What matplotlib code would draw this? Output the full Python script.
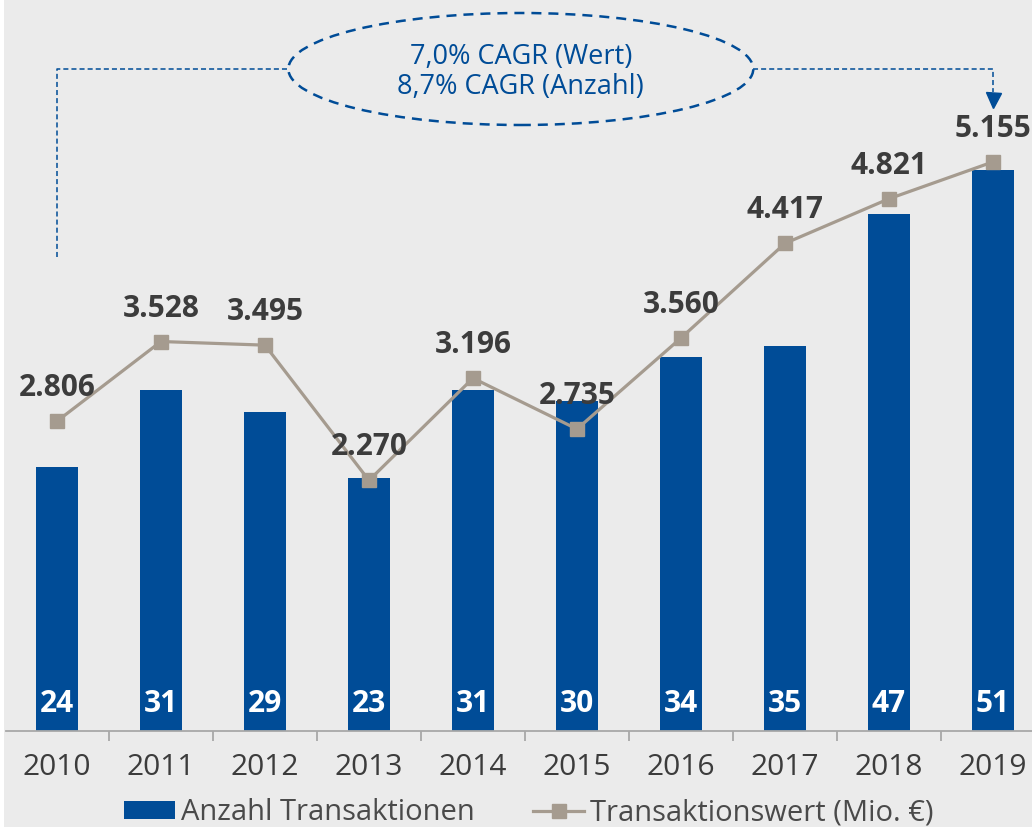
import numpy as np
import matplotlib.pyplot as plt
from matplotlib.patches import Ellipse, Patch, Rectangle
from matplotlib.lines import Line2D
import matplotlib.transforms as mtransforms

plt.rcParams['font.family'] = ['Open Sans', 'DejaVu Sans']

# data
years = ['2010', '2011', '2012', '2013', '2014', '2015', '2016', '2017', '2018', '2019']
anzahl = [24, 31, 29, 23, 31, 30, 34, 35, 47, 51]
wert = [2806, 3528, 3495, 2270, 3196, 2735, 3560, 4417, 4821, 5155]
cagr_lines = ['7,0% CAGR (Wert)', '8,7% CAGR (Anzahl)']

blue = '#004c97'
taupe = '#a59b8f'
dark = '#3c3c3c'
bg = '#ebebeb'

W, H = 1032, 827
fig = plt.figure(figsize=(W / 100, H / 100), dpi=100, facecolor='white')
fig.patches.append(Rectangle((4 / W, 0), 1 - 4 / W, 1, transform=fig.transFigure,
                             facecolor=bg, edgecolor='none', zorder=-10))

ax = fig.add_axes([6 / W, 96 / H, 1026 / W, 731 / H])
ax.set_facecolor('none')
x = np.arange(len(years))
ax.bar(x, anzahl, width=0.40, color=blue, zorder=2)
ax.set_xlim(-0.49, 9.375)
ax.set_ylim(0, 731 / 11)

for s in ['top', 'left', 'right']:
    ax.spines[s].set_visible(False)
ax.spines['bottom'].set_color('#a8a8a8')
ax.spines['bottom'].set_linewidth(1.3)
ax.set_yticks([])
ax.set_xticks(x)
ax.set_xticklabels(years, fontsize=21.5, color=dark)
ax.tick_params(axis='x', which='major', length=0, pad=16)
ax.set_xticks(x[:-1] + 0.5, minor=True)
ax.tick_params(axis='x', which='minor', length=7.5, width=1.3, color='#a8a8a8')

# count labels inside bars
for i, c in enumerate(anzahl):
    ax.annotate(str(c), (i, 0), xytext=(0, 13.7), textcoords='offset points',
                ha='center', va='baseline', color='white', fontsize=21.5,
                fontweight='bold', zorder=3)

# value line on twin axis
ax2 = ax.twinx()
ax2.set_ylim(0, 731 / 0.1104)
ax2.axis('off')
ax2.plot(x, wert, color=taupe, lw=2.3, marker='s', markersize=9.5, zorder=4)
for i, v in enumerate(wert):
    ax2.annotate(f'{v:,}'.replace(',', '.'), (i, v), xytext=(0, 18),
                 textcoords='offset points', ha='center', va='baseline',
                 color=dark, fontsize=21.5, fontweight='bold', zorder=5)

# CAGR annotation
tr = mtransforms.blended_transform_factory(ax.transData, ax.transAxes)
yc = (731 - 69) / 731
ax.plot([0, 0, 2.228], [(731 - 257) / 731, yc, yc], transform=tr, color=blue,
        lw=1.1, ls=(0, (3.3, 2)), clip_on=False)
ax.plot([6.693, 9, 9], [yc, yc, (731 - 92) / 731], transform=tr, color=blue,
        lw=1.1, ls=(0, (3.3, 2)), clip_on=False)
ax.plot([9], [(731 - 99.5) / 731], transform=tr, marker='v', markersize=10.8,
        color=blue, clip_on=False)
ax.add_patch(Ellipse((4.46, yc), 4.47, 112 / 731, transform=tr, fill=False,
                     edgecolor=blue, lw=1.8, ls=(0, (4, 2.8)), clip_on=False))
ax.text(4.46, (731 - 72) / 731, '\n'.join(cagr_lines), transform=tr, ha='center',
        va='center', fontsize=19.5, color=blue, linespacing=1.12)

handles = [Patch(facecolor=blue, edgecolor='none'),
           Line2D([], [], color=taupe, lw=2.3, marker='s', markersize=9.5)]
fig.legend(handles, ['Anzahl Transaktionen', 'Transaktionswert (Mio. €)'],
           loc='lower center', bbox_to_anchor=(529 / W, -0.004), ncol=2,
           frameon=False, fontsize=21, labelcolor='#4a4a4a', handlelength=1.75,
           handleheight=0.6, handletextpad=0.2, columnspacing=2.0,
           borderaxespad=0, borderpad=0.1)

plt.savefig('out.png', dpi=100, facecolor=fig.get_facecolor())
